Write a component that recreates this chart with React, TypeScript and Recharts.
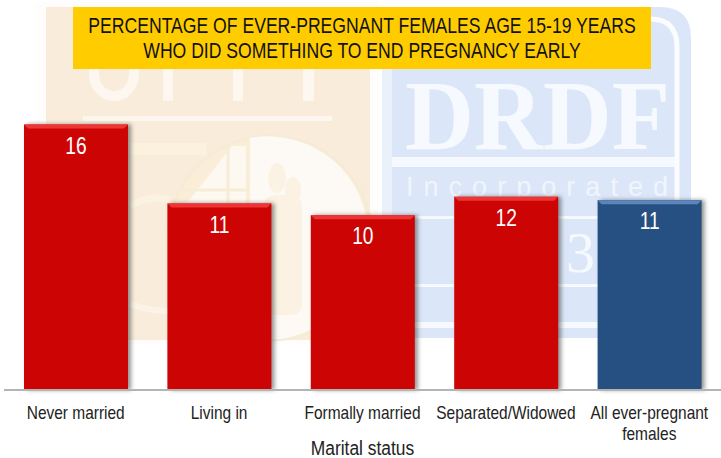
import React from 'react';
import { BarChart, Bar, XAxis, YAxis, LabelList } from 'recharts';

const categories = ['Never married', 'Living in', 'Formally married', 'Separated/Widowed', 'All ever-pregnant females'];
const percentages = [15.8, 11.1, 10.4, 11.5, 11.3];
const barColors = ['#cc0404', '#cc0404', '#cc0404', '#cc0404', '#265082'];
const bevelColors = ['#ee3434', '#ee3434', '#ee3434', '#ee3434', '#5a86ba'];
const titleLines = ['PERCENTAGE OF EVER-PREGNANT FEMALES AGE 15-19 YEARS', 'WHO DID SOMETHING TO END PREGNANCY EARLY'];
const tickLines: Record<string, string[]> = {
  'All ever-pregnant females': ['All ever-pregnant', 'females'],
};

const data = categories.map((name, i) => ({ name, value: percentages[i] }));

const FONT = '"Liberation Sans", Arial, sans-serif';

// the reference type is Arial squeezed sideways
const NarrowText = ({ x, y, size, sx, fill, children }: any) => (
  <text transform={`translate(${x},${y}) scale(${sx},1)`} textAnchor="middle" fontFamily={FONT} fontSize={size} fill={fill}>
    {children}
  </text>
);

// faded logo that sits behind the chart
const Watermark = () => (
  <svg width={721} height={458} style={{ position: 'absolute', left: 0, top: 0 }}>
    <rect x={36} y={2} width={342} height={342} fill="#fefdfb" />
    <rect x={46} y={7} width={324} height={333} fill="#faecdb" />
    {/* lower part of the big letters, the banner hides the rest */}
    <path d="M94 60 V74 A20 22 0 0 0 134 74 V60" fill="none" stroke="#fdf7f0" strokeWidth={10} />
    <rect x={163} y={60} width={10} height={41} fill="#fdf7f0" />
    <rect x={233} y={60} width={10} height={41} fill="#fdf7f0" />
    <rect x={303} y={60} width={11} height={41} fill="#fdf7f0" />
    <rect x={83} y={116} width={249} height={5} fill="#fdf7f0" />
    <rect x={130} y={143} width={76} height={12} fill="#fbf1dd" />
    <circle cx={270} cy={238} r={102} fill="#faeed9" stroke="#f6ecd6" strokeWidth={3} />
    <path d="M250 138 A100 100 0 0 1 368 238 A100 100 0 0 1 250 338 Z" fill="#fdfaf6" />
    <path d="M172 222 L232 146 L246 146 L246 222 Z" fill="#fdf8f0" />
    <path d="M228 146 V222 M172 190 H250" stroke="#f7ecd6" strokeWidth={3} fill="none" />
    <ellipse cx={277} cy={178} rx={9} ry={15} fill="#fbf2e3" />
    <ellipse cx={293} cy={190} rx={8} ry={13} fill="#fbf2e3" />
    <rect x={264} y={195} width={38} height={120} rx={10} fill="#fbf2e3" />
    <path d="M130 206 Q150 194 170 200" fill="none" stroke="#fbf3e2" strokeWidth={7} />
    <path d="M130 304 Q170 318 205 304" fill="none" stroke="#fbf4e6" strokeWidth={6} />

    <path d="M382 338 V7 H660 Q691 7 691 38 V338 Z" fill="#dbe7f9" />
    <rect x={382} y={7} width={10} height={331} fill="#ebf1fb" />
    <path d="M392 19 H650 Q677 19 677 47 V338" fill="none" stroke="#fbfcfe" strokeWidth={5} />
    <text x={405} y={149} fontFamily='"Liberation Serif", serif' fontWeight="bold" fontSize={100} fill="#f6f9fd" textLength={265} lengthAdjust="spacingAndGlyphs">DRDF</text>
    <rect x={392} y={157} width={283} height={10} fill="#f6f9fd" />
    <text x={406} y={196} fontFamily={FONT} fontSize={27} fill="#f0f5fc" textLength={262}>Incorporated</text>
    <rect x={392} y={216} width={283} height={3} fill="#f6f9fd" />
    <text x={566} y={272} fontFamily='"Liberation Serif", serif' fontSize={58} fill="#f6f9fd">3</text>
    <rect x={392} y={284} width={283} height={3} fill="#f6f9fd" />
    <rect x={392} y={322} width={283} height={6} fill="#f6f9fd" />
  </svg>
);

// flat front with a mitred top edge and a soft shadow on the right
const BevelBar = (props: any) => {
  const { x, y, width, height, index } = props;
  const bevel = 4;
  return (
    <g style={{ filter: 'drop-shadow(3px 0px 2px rgba(60,60,60,0.55))' }}>
      <rect x={x} y={y} width={width} height={height} fill={barColors[index]} />
      <polygon
        points={`${x},${y} ${x + width},${y} ${x + width - bevel},${y + bevel} ${x + bevel},${y + bevel}`}
        fill={bevelColors[index]}
      />
    </g>
  );
};

const CategoryTick = (props: any) => {
  const { x, y, payload } = props;
  const lines = tickLines[payload.value] || [payload.value];
  return (
    <g>
      {lines.map((line: string, i: number) => (
        <NarrowText key={line} x={x} y={y + 21 + i * 21} size={18} sx={0.86} fill="#222222">{line}</NarrowText>
      ))}
    </g>
  );
};

const ValueLabel = (props: any) => {
  const { x, y, width, value } = props;
  return <NarrowText x={x + width / 2} y={y + 29} size={24} sx={0.8} fill="#ffffff">{Math.round(Number(value))}</NarrowText>;
};

const AxisTitle = (props: any) => {
  const { viewBox } = props;
  return <NarrowText x={viewBox.x + viewBox.width / 2} y={455} size={20} sx={0.87} fill="#222222">Marital status</NarrowText>;
};

const TitleBanner = () => (
  <svg width={721} height={458} style={{ position: 'absolute', left: 0, top: 0, pointerEvents: 'none' }}>
    <rect x={73} y={7} width={578} height={62} fill="#ffcc00" />
    {titleLines.map((line, i) => (
      <NarrowText key={line} x={362} y={33 + i * 25} size={22} sx={0.8} fill="#111111">{line}</NarrowText>
    ))}
  </svg>
);

export default function App() {
  return (
    <div style={{ position: 'absolute', left: 0, top: 0, width: 721, height: 458, background: '#ffffff', overflow: 'hidden' }}>
      <Watermark />
      <div style={{ position: 'absolute', left: 0, top: 0 }}>
        <BarChart width={721} height={458} data={data} margin={{ top: 54, right: 0, bottom: 0, left: 4 }}>
          <XAxis
            dataKey="name"
            interval={0}
            height={68}
            tick={<CategoryTick />}
            tickLine={false}
            axisLine={{ stroke: '#b4b4b4', strokeWidth: 2 }}
            label={<AxisTitle />}
          />
          <YAxis hide domain={[0, 20]} />
          <Bar dataKey="value" barSize={104} shape={<BevelBar />} isAnimationActive={false}>
            <LabelList dataKey="value" content={<ValueLabel />} />
          </Bar>
        </BarChart>
      </div>
      <TitleBanner />
    </div>
  );
}
